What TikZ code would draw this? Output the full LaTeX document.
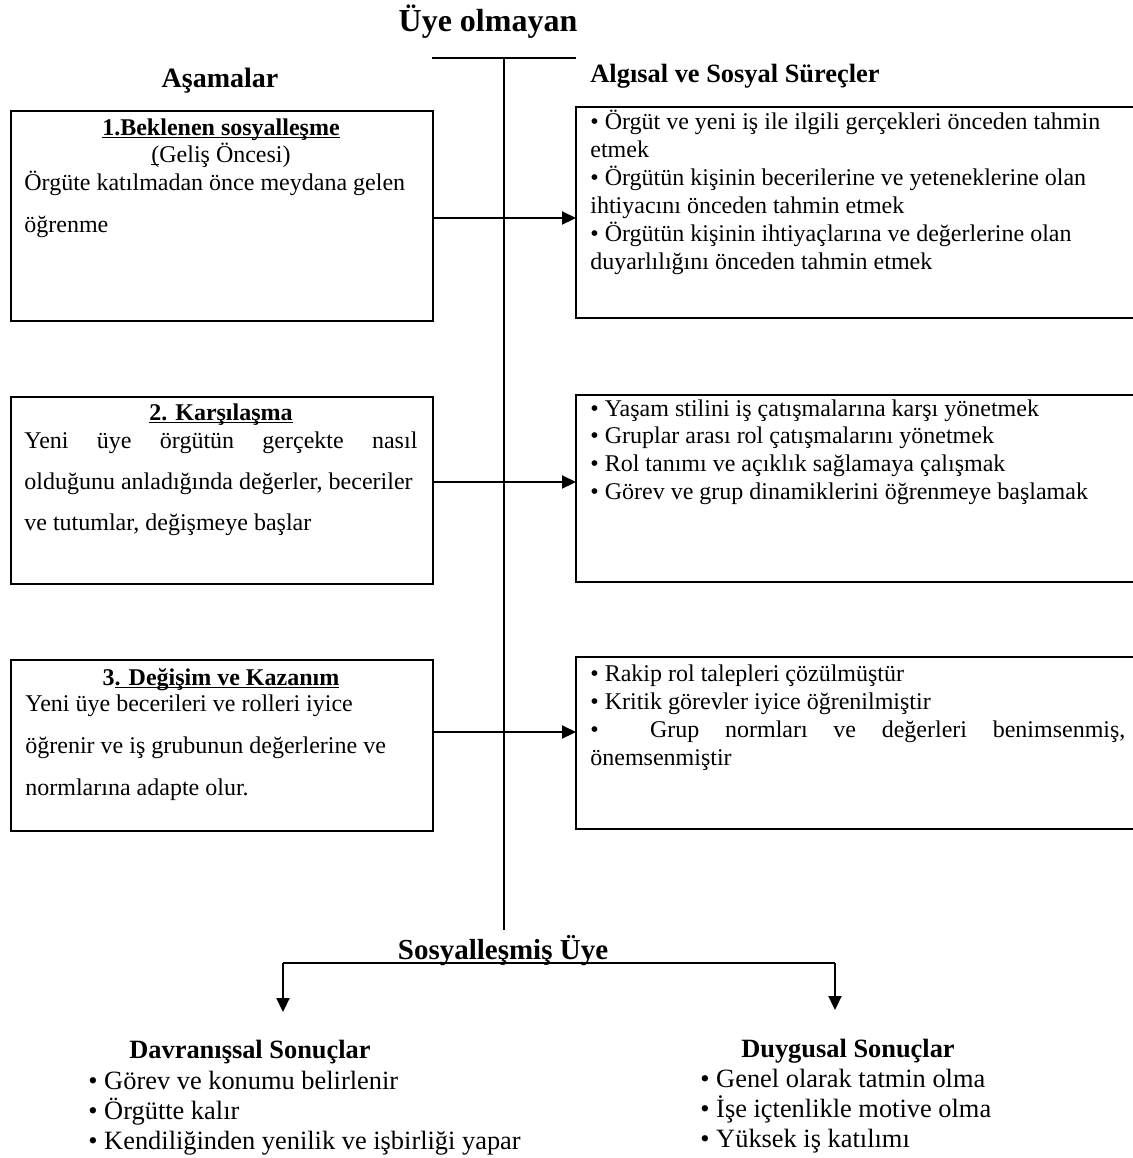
\documentclass[tikz,border=0pt]{standalone}
\usepackage{fontspec}
\setmainfont{Liberation Serif}
\usetikzlibrary{arrows.meta}

% underline drawn just below the baseline, crossing descenders
\newcommand{\ulbase}[1]{\underline{\smash{#1}}}

\begin{document}
\begin{tikzpicture}[x=0.5pt,y=-0.5pt,
  stagebox/.style={draw,line width=0.8pt,anchor=north west,inner sep=0pt},
  procbox/.style={anchor=north west,inner sep=0pt},
  side/.style={line width=0.8pt},
  spine/.style={line width=0.7pt},
  arr/.style={line width=1.1pt,-{Triangle[length=7pt,width=6.5pt]}},
  ln/.style={anchor=base west,inner sep=0pt,font=\fontsize{12}{14}\selectfont},
  ttl/.style={anchor=base,inner sep=0pt,font=\fontsize{12}{14}\selectfont\bfseries},
  head/.style={inner sep=0pt,font=\bfseries},
  res/.style={anchor=base west,inner sep=0pt,font=\fontsize{13.2}{15}\selectfont},
]
\useasboundingbox (0,0) rectangle (1133,1158);

% headings
\node[head,font=\fontsize{16}{18}\selectfont\bfseries] (uye) at (488,22) {Üye olmayan};
\node[head,font=\fontsize{14}{16}\selectfont\bfseries] (asama) at (220,81) {Aşamalar};
\node[head,anchor=west,font=\fontsize{13.2}{15}\selectfont\bfseries] (surec) at (590,76) {Algısal ve Sosyal Süreçler};

% stage boxes (left)
\node[stagebox,minimum width=211pt,minimum height=105pt] (b1) at (10,110) {};
\node[stagebox,minimum width=211pt,minimum height=93.5pt] (b2) at (10,396) {};
\node[stagebox,minimum width=211pt,minimum height=85.5pt] (b3) at (10,659) {};

% process boxes (right, open towards the right margin)
\node[procbox,minimum width=278.5pt,minimum height=105pt] (r1) at (576,107) {};
\node[procbox,minimum width=278.5pt,minimum height=93pt] (r2) at (576,395) {};
\node[procbox,minimum width=278.5pt,minimum height=85.5pt] (r3) at (576,657) {};
\foreach \r in {r1,r2,r3}
  \draw[side] (\r.north east) -- (\r.north west) -- (\r.south west) -- (\r.south east);

% stage 1
\node[ttl] (t1) at (221,135) {\ulbase{1.Beklenen sosyalleşme}};
\node[anchor=base,inner sep=0pt,font=\fontsize{12}{14}\selectfont] (t1b) at (221,162) {\ulbase{(}Geliş Öncesi)};
\node[ln] (t1c) at (24,190) {Örgüte katılmadan önce meydana gelen};
\node[ln] (t1d) at (24,232) {öğrenme};

% stage 2
\node[ttl] (t2) at (221,420) {\ulbase{2. Karşılaşma}};
\node[ln] (t2a) at (24,448) {\makebox[196.5pt][s]{Yeni üye örgütün gerçekte nasıl}};
\node[ln] (t2b) at (24,489) {olduğunu anladığında değerler, beceriler};
\node[ln] (t2c) at (24,530) {ve tutumlar, değişmeye başlar};

% stage 3
\node[ttl] (t3) at (221,685) {3\ulbase{. Değişim ve Kazanım}};
\node[ln] (t3a) at (25,711) {Yeni üye becerileri ve rolleri iyice};
\node[ln] (t3b) at (25,753) {öğrenir ve iş grubunun değerlerine ve};
\node[ln] (t3c) at (25,795) {normlarına adapte olur.};

% processes 1
\foreach \t [count=\i] in {
  {• Örgüt ve yeni iş ile ilgili gerçekleri önceden tahmin},
  {etmek},
  {• Örgütün kişinin becerilerine ve yeteneklerine olan},
  {ihtiyacını önceden tahmin etmek},
  {• Örgütün kişinin ihtiyaçlarına ve değerlerine olan},
  {duyarlılığını önceden tahmin etmek}}
  \node[ln] (p1\i) at (590,{129.5+28*(\i-1)}) {\t};

% processes 2
\foreach \t [count=\i] in {
  {• Yaşam stilini iş çatışmalarına karşı yönetmek},
  {• Gruplar arası rol çatışmalarını yönetmek},
  {• Rol tanımı ve açıklık sağlamaya çalışmak},
  {• Görev ve grup dinamiklerini öğrenmeye başlamak}}
  \node[ln] (p2\i) at (590,{416+27.7*(\i-1)}) {\t};

% processes 3
\node[ln] (p31) at (590,681) {• Rakip rol talepleri çözülmüştür};
\node[ln] (p32) at (590,709) {• Kritik görevler iyice öğrenilmiştir};
\node[ln] (p33) at (590,737) {\makebox[267.5pt][s]{• \ Grup normları ve değerleri benimsenmiş,}};
\node[ln] (p34) at (590,765) {önemsenmiştir};

% central spine
\coordinate (topL) at (432,58);
\coordinate (topR) at (576,58);
\coordinate (topM) at (504,58);
\coordinate (spineEnd) at (504,930);
\draw[spine] (topL) -- (topR);
\draw[spine] (topM) -- (spineEnd);

% stage -> process arrows
\coordinate (y1) at (0,218);
\coordinate (y2) at (0,482);
\coordinate (y3) at (0,732);
\draw[arr] (b1.east |- y1) -- (r1.west |- y1);
\draw[arr] ([xshift=-1pt]b2.east |- y2) -- (r2.west |- y2);
\draw[arr] (b3.east |- y3) -- (r3.west |- y3);

% socialised member and outcomes
\node[head,font=\fontsize{14.5}{16}\selectfont\bfseries] (sos) at (503,951) {Sosyalleşmiş Üye};
\coordinate (forkL) at (283,963);
\coordinate (forkR) at (835,963);
\coordinate (endL) at (283,1012);
\coordinate (endR) at (835,1010);
\draw[line width=1.1pt] (forkL) -- (forkR);
\draw[arr] (forkL) -- (endL);
\draw[arr] (forkR) -- (endR);

\node[head,font=\fontsize{13.2}{15}\selectfont\bfseries] (davr) at (250,1052) {Davranışsal Sonuçlar};
\node[res] (d1) at (88,1089) {• Görev ve konumu belirlenir};
\node[res] (d2) at (88,1119) {• Örgütte kalır};
\node[res] (d3) at (88,1149) {• Kendiliğinden yenilik ve işbirliği yapar};

\node[head,font=\fontsize{13.2}{15}\selectfont\bfseries] (duyg) at (848,1051) {Duygusal Sonuçlar};
\node[res] (g1) at (700,1087) {• Genel olarak tatmin olma};
\node[res] (g2) at (700,1117) {• İşe içtenlikle motive olma};
\node[res] (g3) at (700,1147) {• Yüksek iş katılımı};
\end{tikzpicture}
\end{document}
